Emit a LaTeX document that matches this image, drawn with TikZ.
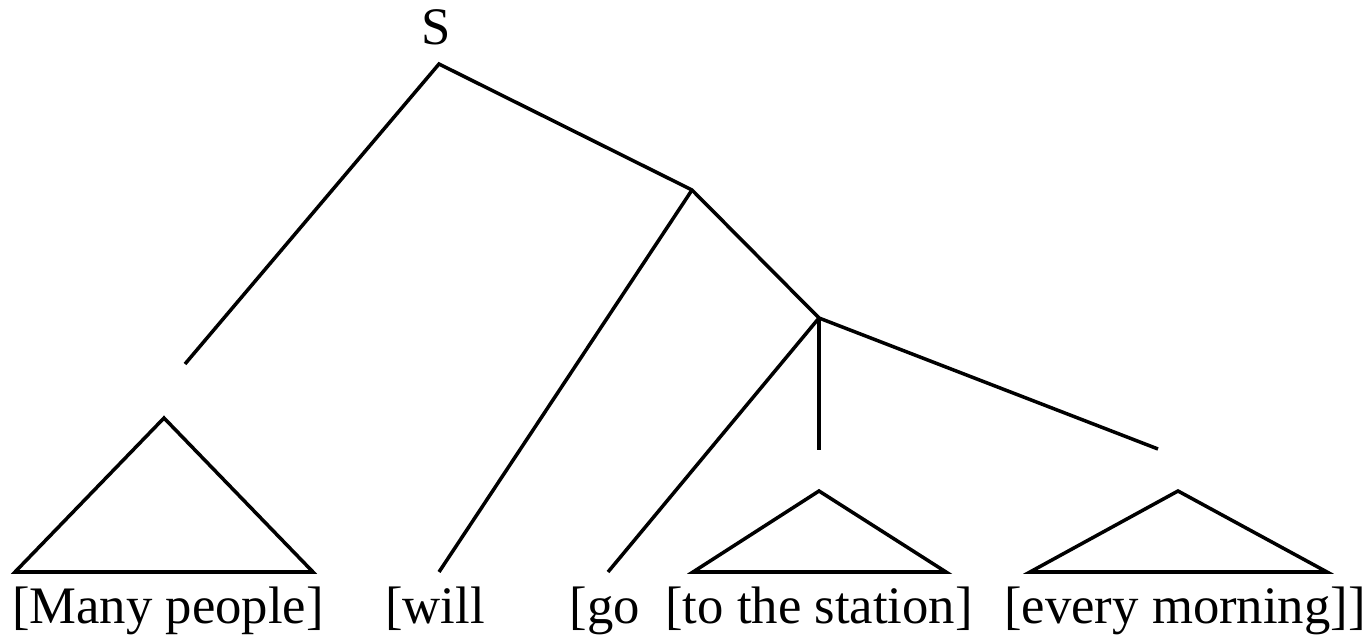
\documentclass[tikz,border=0pt]{standalone}
\usepackage{fontspec}
\setmainfont{Liberation Serif}
\usetikzlibrary{positioning}
\newcommand{\treefont}{\fontsize{30}{34}\selectfont}
\tikzset{
  branch/.style = {line width=2pt},
  word/.style   = {inner sep=0pt, anchor=base, font=\treefont},
}

\begin{document}
\begin{tikzpicture}[x=0.02cm, y=-0.02cm]
  \useasboundingbox (0,0) rectangle (1369,641);

  % root and inner points
  \node[word] (s) at (436,45) {S};
  \coordinate (top) at (439,64);
  \coordinate (vp) at (692,190);
  \coordinate (vbar) at (819,318);

  % free ends of the branches
  \coordinate (npEnd) at (185,364);
  \coordinate (ppEnd) at (819,450);
  \coordinate (advEnd) at (1158,449);

  % triangles
  \coordinate (npTop) at (164,418);
  \coordinate (npL) at (15,572);
  \coordinate (npR) at (313,572);
  \coordinate (ppTop) at (819,491);
  \coordinate (ppL) at (693,572);
  \coordinate (ppR) at (946,572);
  \coordinate (advTop) at (1178,491);
  \coordinate (advL) at (1030,572);
  \coordinate (advR) at (1327,572);
  \coordinate (willEnd) at (439,572);
  \coordinate (goEnd) at (608,572);

  % words
  \node[word] (many) at (168,623) {[Many people]};
  \node[word] (will) at (435,623) {[will};
  \node[word] (go) at (605,623) {[go};
  \node[word] (station) at (819,623) {[to the station]};
  \node[word] (morning) at (1185,623) {[every morning]]};

  \draw[branch] (npEnd) -- (top) -- (vp) -- (vbar) -- (advEnd);
  \draw[branch] (vp) -- (willEnd);
  \draw[branch] (vbar) -- (goEnd);
  \draw[branch] (vbar) -- (ppEnd);
  \draw[branch] (npTop) -- (npL) -- (npR) -- cycle;
  \draw[branch] (ppTop) -- (ppL) -- (ppR) -- cycle;
  \draw[branch] (advTop) -- (advL) -- (advR) -- cycle;
\end{tikzpicture}
\end{document}
